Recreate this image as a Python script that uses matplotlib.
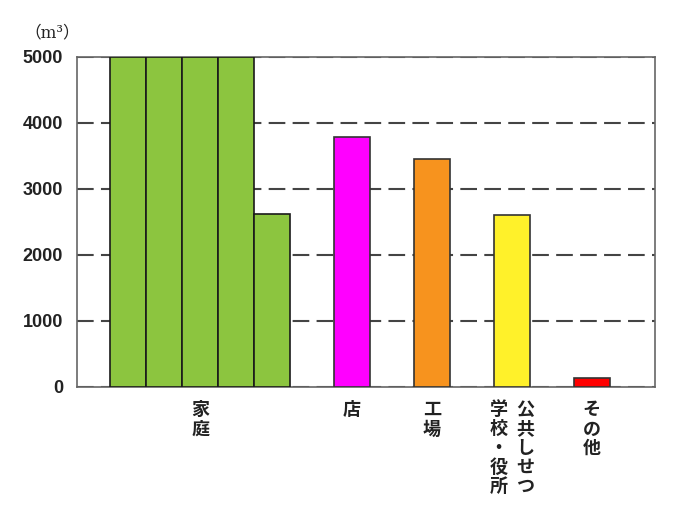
import numpy as np
import matplotlib.pyplot as plt
from matplotlib.transforms import blended_transform_factory

plt.rcParams['font.family'] = ['Noto Sans CJK JP', 'DejaVu Sans']

# 家庭 is drawn as 5 stacked-looking bars (over 5000 it continues in the next bar)
home_vals = [5000, 5000, 5000, 5000, 2620]
other_vals = [3780, 3460, 2610, 140]
other_colors = ['#ff00ff', '#f7931e', '#fff12a', '#ff0000']
green = '#8cc53f'

labels = ['家庭', '店', '工場', '公共しせつ\n学校・役所', 'その他']
yticks = [0, 1000, 2000, 3000, 4000, 5000]

fig = plt.figure(figsize=(7, 5.3), dpi=100)
ax = fig.add_axes([0.11, 0.27, 0.826, 0.6225])

x_home = np.arange(len(home_vals))
ax.bar(x_home, home_vals, width=1.0, color=green, edgecolor='#1a1a1a',
       linewidth=1.2, zorder=3)

step = 2.22
x_other = x_home[-1] + step * np.arange(1, len(other_vals) + 1)
ax.bar(x_other, other_vals, width=1.0, color=other_colors, edgecolor='#333333',
       linewidth=1.2, zorder=3)

ax.set_xlim(-1.42, 14.64)
ax.set_ylim(0, 5000)
ax.set_yticks(yticks)
ax.set_yticklabels([str(v) for v in yticks], fontfamily='Liberation Sans',
                   fontweight='bold', fontsize=13, color='#222222')
ax.tick_params(axis='y', length=0, pad=10)
ax.tick_params(axis='x', length=0, labelbottom=False)
ax.yaxis.grid(True, linestyle=(0, (8, 3.5)), color='#444444', linewidth=1.5, zorder=1)
for s in ax.spines.values():
    s.set_color('#666666')
    s.set_linewidth(1.2)

# vertical japanese labels
trans = blended_transform_factory(ax.transData, ax.transAxes)
label_x = [x_home[2]] + list(x_other)
for xi, lab in zip(label_x, labels):
    cols = lab.split('\n')
    n = len(cols)
    for j, col in enumerate(cols):
        # first column on the right
        off = (n - 1) / 2 - j
        ax.text(xi + off * 0.75, -0.04, '\n'.join(col), transform=trans,
                ha='center', va='top', fontsize=13, fontweight='bold',
                linespacing=1.02, color='#222222')

fig.text(0.035, 0.937, '（m³）', family=['DejaVu Serif', 'Noto Sans CJK JP'],
         fontsize=12, ha='left', va='center', color='#222222')

fig.savefig('out.png', dpi=100)
